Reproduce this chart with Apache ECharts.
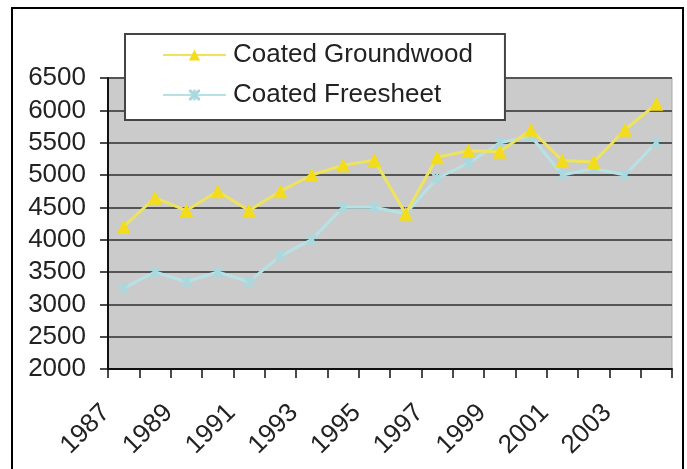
<!DOCTYPE html>
<html>
<head>
<meta charset="utf-8">
<script src="https://cdn.jsdelivr.net/npm/echarts@6/dist/echarts.min.js"></script>
<style>
  html, body { margin: 0; padding: 0; background: #fff; }
  #chart { width: 687px; height: 469px; }
</style>
</head>
<body>
<div id="chart"></div>
<script>
var years = ['1987', '1988', '1989', '1990', '1991', '1992', '1993', '1994', '1995',
  '1996', '1997', '1998', '1999', '2000', '2001', '2002', '2003', '2004']
var groundwood = [4200, 4650, 4450, 4750, 4450, 4750, 5000, 5150, 5230,
  4400, 5275, 5375, 5360, 5700, 5225, 5200, 5700, 6100]
var freesheet = [3250, 3500, 3350, 3500, 3350, 3750, 4000, 4500, 4500,
  4400, 4950, 5180, 5500, 5600, 5000, 5100, 5000, 5500]
var seriesNames = ['Coated Groundwood', 'Coated Freesheet']

var chart = echarts.init(document.getElementById('chart'))

// ж-shaped marker used by the freesheet line
var starMark = 'path://M0,0L2,0L10,8L10,10L8,10L0,2Z M8,0L10,0L10,2L2,10L0,10L0,8Z M4,0L6,0L6,10L4,10Z'

var option = {
  animation: false,
  textStyle: { fontFamily: 'Liberation Sans, Arial, sans-serif' },
  graphic: [
    {
      type: 'rect',
      shape: { x: 12, y: 8, width: 671, height: 480 },
      style: { fill: 'none', stroke: '#000', lineWidth: 2 },
      z: -10
    }
  ],
  legend: {
    orient: 'vertical',
    left: 125,
    top: 34,
    backgroundColor: '#fff',
    borderColor: '#444',
    borderWidth: 2,
    padding: [8, 32, 12, 37],
    itemGap: 14,
    itemWidth: 63,
    itemHeight: 14,
    textStyle: { fontSize: 26, color: '#222', padding: [0, 0, 0, 2] },
    data: seriesNames
  },
  grid: {
    left: 108,
    right: 15,
    top: 78,
    bottom: 100,
    show: true,
    backgroundColor: '#cbcbcb',
    borderColor: '#a8a8a8',
    borderWidth: 1
  },
  xAxis: {
    type: 'category',
    data: years,
    boundaryGap: true,
    axisLine: { lineStyle: { color: '#111', width: 2 } },
    axisTick: { show: true, interval: 0, length: 9, lineStyle: { color: '#111', width: 1.5 } },
    axisLabel: {
      interval: 1,
      rotate: 45,
      margin: 22,
      padding: [0, 25, 0, 0],
      fontSize: 26,
      color: '#222'
    },
    splitLine: { show: false }
  },
  yAxis: {
    type: 'value',
    min: 2000,
    max: 6500,
    interval: 500,
    axisLine: { show: true, lineStyle: { color: '#111', width: 2 } },
    axisTick: { show: true, length: 8, lineStyle: { color: '#111', width: 1.5 } },
    axisLabel: {
      fontSize: 26,
      color: '#222',
      margin: 22,
      formatter: function (v) { return String(v) }
    },
    splitLine: { lineStyle: { color: '#555', width: 2 } }
  },
  series: [
    {
      name: seriesNames[0],
      type: 'line',
      data: groundwood,
      symbol: 'triangle',
      symbolSize: 14,
      lineStyle: { color: '#eee35c', width: 3 },
      itemStyle: { color: '#f2dc1c' },
      z: 3
    },
    {
      name: seriesNames[1],
      type: 'line',
      data: freesheet,
      symbol: starMark,
      symbolSize: 10,
      lineStyle: { color: '#b6e2e6', width: 3 },
      itemStyle: { color: '#a9d9de' },
      z: 2
    }
  ]
}
chart.setOption(option)
</script>
</body>
</html>
